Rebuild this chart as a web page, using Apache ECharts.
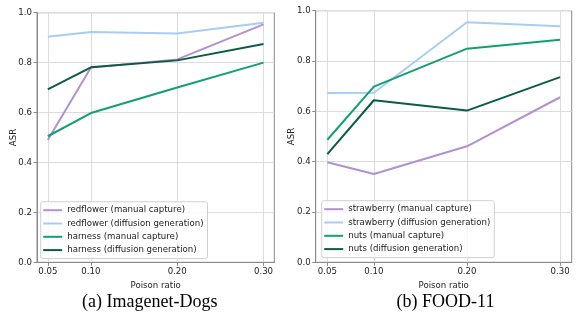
<!DOCTYPE html>
<html><head><meta charset="utf-8">
<script src="https://cdn.jsdelivr.net/npm/echarts@6/dist/echarts.min.js"></script>
<style>html,body{margin:0;padding:0;background:#fff}#c{width:581px;height:315px}</style>
</head><body><div id="c"></div>
<script>
const ratios = [0.05, 0.10, 0.20, 0.30];
const yTicks = [0, 0.2, 0.4, 0.6, 0.8, 1.0];
const namesA = ['redflower (manual capture)', 'redflower (diffusion generation)', 'harness (manual capture)', 'harness (diffusion generation)'];
const redflowerManual = [0.49, 0.78, 0.813, 0.953];
const redflowerDiffusion = [0.904, 0.923, 0.917, 0.96];
const harnessManual = [0.505, 0.598, 0.70, 0.80];
const harnessDiffusion = [0.693, 0.781, 0.809, 0.875];
const namesB = ['strawberry (manual capture)', 'strawberry (diffusion generation)', 'nuts (manual capture)', 'nuts (diffusion generation)'];
const strawberryManual = [0.398, 0.351, 0.461, 0.656];
const strawberryDiffusion = [0.673, 0.674, 0.954, 0.938];
const nutsManual = [0.487, 0.698, 0.849, 0.885];
const nutsDiffusion = [0.430, 0.644, 0.603, 0.736];
const captions = ['(a) Imagenet-Dogs', '(b) FOOD-11'];
const colors = ['#b291d1', '#a7cdf5', '#12a070', '#0b5b47'];

const F = 'DejaVu Sans';
const FS = 8.6;
const grids = [
  {left: 37, width: 237.3, top: 12.7, height: 249.6},
  {left: 315.7, width: 256, top: 10.7, height: 251.6}
];
function xAx(i){
  return {type:'value', gridIndex:i, min:0.0375, max:0.3125,
    name:'Poison ratio', nameLocation:'middle', nameGap:19,
    nameTextStyle:{fontFamily:F, fontSize:FS, color:'#222'},
    axisLine:{show:true, onZero:false, lineStyle:{color:'#8a8a8a', width:1}},
    axisTick:{show:true, length:3.5, customValues: ratios, lineStyle:{color:'#8a8a8a'}},
    axisLabel:{customValues: ratios, fontFamily:F, fontSize:FS, color:'#222', margin:5,
      formatter: v => v.toFixed(2)},
    splitLine:{show:true, lineStyle:{color:'#dcdcdc', width:1}}
  };
}
function yAx(i){
  return {type:'value', gridIndex:i, min:0, max:1, interval:0.2,
    name:'ASR', nameLocation:'middle', nameGap: 19, nameMoveOverlap: false,
    nameTextStyle:{fontFamily:F, fontSize:FS, color:'#222'},
    axisLine:{show:true, lineStyle:{color:'#8a8a8a', width:1}},
    axisTick:{show:true, length:3.5, lineStyle:{color:'#8a8a8a'}},
    axisLabel:{fontFamily:F, fontSize:FS, color:'#222', margin:5, formatter: v => v.toFixed(1)},
    splitLine:{show:true, lineStyle:{color:'#dcdcdc', width:1}}
  };
}
function ser(name, vals, ci, gi){
  return {name, type:'line', xAxisIndex:gi, yAxisIndex:gi, symbol:'none',
    data: ratios.map((x,k)=>[x, vals[k]]),
    lineStyle:{width:2, color:colors[ci]}, itemStyle:{color:colors[ci]}, z: 3};
}
const seriesA = [redflowerManual, redflowerDiffusion, harnessManual, harnessDiffusion];
const seriesB = [strawberryManual, strawberryDiffusion, nutsManual, nutsDiffusion];
const series = [];
seriesA.forEach((v,k)=>series.push(ser(namesA[k], v, k, 0)));
seriesB.forEach((v,k)=>series.push(ser(namesB[k], v, k, 1)));

function leg(names, left, top){
  return {data:names, orient:'vertical', left, top, icon:'rect', itemWidth:19, itemHeight:2,
    itemGap:3.3, itemStyle:{borderWidth:0},
    textStyle:{fontFamily:F, fontSize:FS, color:'#222', lineHeight:10},
    padding:[3.5,4,3.5,2.5], borderColor:'#d0d0d0', borderWidth:1, borderRadius:2,
    backgroundColor:'rgba(255,255,255,0.8)'};
}
const chart = echarts.init(document.getElementById('c'), null, {renderer:'canvas'});
chart.setOption({
  animation:false,
  grid: grids.map(g=>Object.assign({show:true, borderColor:'#8a8a8a', borderWidth:1, backgroundColor:'transparent'}, g)),
  xAxis:[xAx(0), xAx(1)],
  yAxis:[yAx(0), yAx(1)],
  legend:[leg(namesA, 40.7, 201.7), leg(namesB, 321.7, 200.7)],
  series,
  title:[
    {text:captions[0], left:149.7, top:293, padding:0, textAlign:'center', textStyle:{fontFamily:'Liberation Serif', fontSize:18, fontWeight:'normal', color:'#000'}},
    {text:captions[1], left:445.5, top:293, padding:0, textAlign:'center', textStyle:{fontFamily:'Liberation Serif', fontSize:18, fontWeight:'normal', color:'#000'}}
  ]
});
</script></body></html>
